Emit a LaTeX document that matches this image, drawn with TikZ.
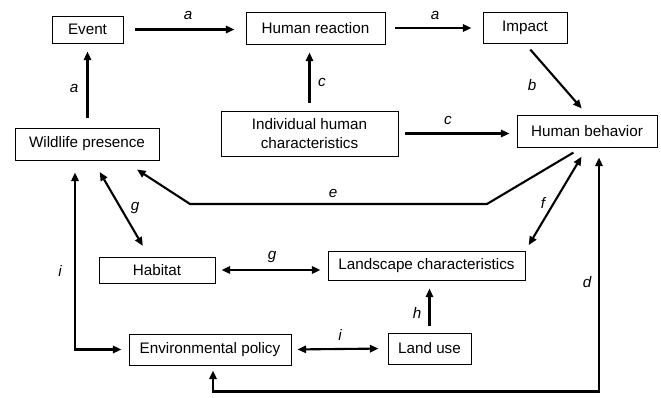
\documentclass[tikz,border=0pt]{standalone}
\usepackage{fontspec}
\setmainfont{Liberation Sans}
\usetikzlibrary{arrows.meta}

\tikzset{
  box/.style={draw, line width=0.8pt, inner sep=0pt, align=center,
    font=\fontsize{13}{15.5}\selectfont},
  lbl/.style={font=\fontsize{13}{15.5}\selectfont\itshape, inner sep=0pt},
  arr/.style={line width=1.8pt, -{Triangle[length=0.26cm,width=0.22cm]},
    shorten <=0.24cm, shorten >=0.24cm},
  darr/.style={arr, {Triangle[length=0.26cm,width=0.22cm]}-{Triangle[length=0.26cm,width=0.22cm]}}
}

\begin{document}
\begin{tikzpicture}[x=0.03cm, y=-0.03cm]
    \useasboundingbox (0,0) rectangle (661,398);

    % boxes
    \node[box, minimum width=2.13cm, minimum height=0.81cm] (event) at (87.5,29.5) {Event};
    \node[box, minimum width=4.17cm, minimum height=0.96cm] (reaction) at (315.5,28) {Human reaction};
    \node[box, minimum width=2.52cm, minimum height=0.93cm] (impact) at (525,27.5) {Impact};
    \node[box, minimum width=4.32cm, minimum height=0.96cm] (wildlife) at (87,144) {Wildlife presence};
    \node[box, minimum width=5.31cm, minimum height=1.35cm] (indiv) at (309.5,133.5) {Individual human\\characteristics};
    \node[box, minimum width=4.2cm, minimum height=0.96cm] (behavior) at (587,131) {Human behavior};
    \node[box, minimum width=3.48cm, minimum height=0.78cm] (habitat) at (157,270) {Habitat};
    \node[box, minimum width=5.91cm, minimum height=0.87cm] (landscape) at (426.5,265.5) {Landscape characteristics};
    \node[box, minimum width=4.86cm, minimum height=0.93cm] (policy) at (210,349.5) {Environmental policy};
    \node[box, minimum width=2.49cm, minimum height=0.93cm] (landuse) at (429.5,348.5) {Land use};

    % bends
    \coordinate (e1) at (487,204);
    \coordinate (e2) at (190,204);

    % connectors
    \draw[arr, shorten <=0.35cm, shorten >=0.33cm] (event.east) -- (event.east -| reaction.west);
    \draw[arr, shorten <=0.3cm, shorten >=0.33cm] (reaction.east) -- (reaction.east -| impact.west);
    \draw[arr, shorten <=0.3cm] (wildlife.north -| event.south) -- (event.south);
    \draw[arr] (indiv.north) -- (indiv.north |- reaction.south);
    \draw[arr] (impact.south) -- (behavior.north);
    \draw[arr, shorten <=0.21cm, shorten >=0.21cm] (indiv.east) -- (indiv.east -| behavior.west);
    \draw[arr, shorten <=0.3cm, shorten >=0.5cm] ([xshift=-0.15cm]behavior.south) -- (e1) -- (e2) -- ([xshift=1.08cm]wildlife.south);
    \draw[darr, shorten <=0.32cm, shorten >=0.19cm] (behavior.south) -- (landscape.north east);
    \draw[darr, shorten <=0.4cm, shorten >=0.37cm] ([xshift=0.18cm]wildlife.south) -- ([xshift=-0.24cm]habitat.north);
    \draw[darr, shorten <=0.18cm, shorten >=0.21cm] (habitat.east) -- (habitat.east -| landscape.west);
    \draw[darr, shorten <=0.36cm, shorten >=0.21cm] ([xshift=-0.36cm]wildlife.south) |- (policy.west);
    \draw[darr, shorten <=0.18cm, shorten >=0.27cm] (policy.east) -- (landuse.west);
    \draw[arr, shorten <=0.21cm] (landuse.north) -- (landuse.north |- landscape.south);
    \draw[darr, shorten <=0.15cm, shorten >=0.3cm] ([xshift=0.09cm]policy.south) -- ++(0,26) -| ([xshift=0.36cm]behavior.south);

    % labels
    \node[lbl] (la1) at (188,15) {a};
    \node[lbl] (la2) at (435,15) {a};
    \node[lbl] (la3) at (74,88) {a};
    \node[lbl] (lc1) at (322,82) {c};
    \node[lbl] (lb) at (532,85) {b};
    \node[lbl] (lc2) at (448,120) {c};
    \node[lbl] (le) at (333,193) {e};
    \node[lbl] (lf) at (543,203) {f};
    \node[lbl] (lg1) at (135,208) {g};
    \node[lbl] (lg2) at (272,257) {g};
    \node[lbl] (li1) at (60,271) {i};
    \node[lbl] (li2) at (340,335) {i};
    \node[lbl] (lh) at (417,313) {h};
    \node[lbl] (ld) at (587,282) {d};
\end{tikzpicture}
\end{document}
